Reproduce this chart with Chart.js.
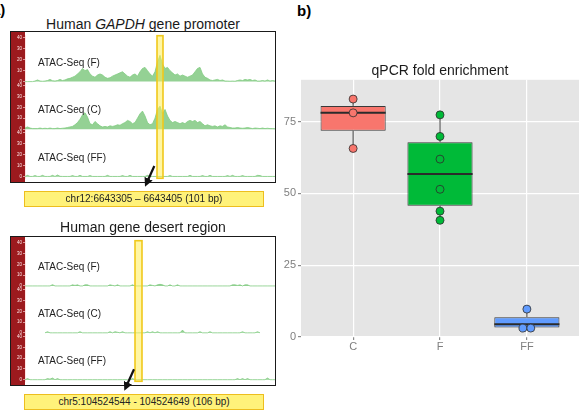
<!DOCTYPE html>
<html><head><meta charset="utf-8">
<script src="https://cdn.jsdelivr.net/npm/chart.js@4.4.1/dist/chart.umd.min.js"></script>
<style>
html,body{margin:0;padding:0;background:#fff;}
body{width:584px;height:411px;position:relative;overflow:hidden;font-family:'Liberation Sans',Arial,sans-serif;}
.abs{position:absolute;}
.title{position:absolute;left:0;width:286px;text-align:center;font-size:14px;color:#1a1a1a;line-height:16px;}
.frame{position:absolute;box-sizing:border-box;border:1.5px solid #1a1a1a;}
.coord{position:absolute;box-sizing:border-box;left:24px;width:240px;height:16px;background:#FFF27A;border:1.5px solid #EDBE1E;text-align:center;font-size:10px;line-height:13px;color:#222;white-space:nowrap;}
canvas{position:absolute;}
</style></head>
<body>
<div class="abs" style="left:-8px;top:1px;font-weight:bold;font-size:15px;">a)</div>
<div class="abs" style="left:297px;top:2px;font-weight:bold;font-size:15px;">b)</div>
<div class="title" style="top:16px;">Human <i>GAPDH</i> gene promoter</div>
<canvas id="b1" width="264" height="150" style="left:11px;top:32px;"></canvas>
<div class="frame" style="left:10px;top:31px;width:266px;height:152px;"></div>
<div class="coord" style="top:191px;">chr12:6643305 – 6643405 (101 bp)</div>
<div class="title" style="top:219px;">Human gene desert region</div>
<canvas id="b2" width="264" height="148" style="left:11px;top:237px;"></canvas>
<div class="frame" style="left:10px;top:236px;width:266px;height:150px;"></div>
<div class="coord" style="top:394px;">chr5:104524544 - 104524649 (106 bp)</div>
<svg class="abs" style="left:0;top:0" width="584" height="411">
<defs><marker id="ah" markerWidth="4" markerHeight="4" refX="2" refY="2" orient="auto" markerUnits="strokeWidth"><path d="M0,0 L4,2 L0,4 z" fill="#111"/></marker></defs>
<line x1="154.3" y1="166" x2="146.8" y2="182.7" stroke="#111" stroke-width="2.2" marker-end="url(#ah)"/>
<line x1="134" y1="369.3" x2="126.1" y2="386.7" stroke="#111" stroke-width="2.2" marker-end="url(#ah)"/>
</svg>
<canvas id="box" width="314" height="371" style="left:270px;top:40px;"></canvas>
<script>
// ---------- Data ----------
const trackNames = ['ATAC-Seq (F)', 'ATAC-Seq (C)', 'ATAC-Seq (FF)'];
const trackTicks = [0, 10, 20, 30, 40];
// GAPDH promoter coverage (101 bins across the browser window)
const gapdhF = [0,0,0,0,0.5,1.5,0.5,0.3,0.5,1, 2,0.8,0.5,1,2,1,1.5,2.5,3,4, 5,7,9,12,10,11,7,5,4,6, 7,6,4,3,3.5,5,6,7,8,9, 7,5,4,6,7,5,9,12,13,10, 7,5,9,18,24,16,12,13,10,8, 6,7,5,6,5,4,5,6,9,12, 13,7,4,3,1.5,1,1.5,2,1,1.5, 0.5,0.5,0.3,0.5,0.3,1,1.5,1,2,1.5, 2,1,1.5,0.5,0.5,1,0.5,1.5,0.5,1,0.5];
const gapdhC = [1,2,1,0.5,0.5,0.5,1,0.5,0.8,0.5, 1,0.5,0.5,1,0.5,0.8,1,1.5,2,2.5, 4,6,9,13,15,11,5,4,7,5, 3,2,2.5,2,3,2.5,3,4,3.5,5, 6,8,7,5,6,10,14,16.5,12,6, 4,5,10,18,21,14,18,12,8,6, 7,6,5,6,5,7,8,7,8,6, 7,5,3,4,3,2.5,3,2,3,2.5, 4,2,1.5,1,1,1.5,1,0.8,1,1.5, 1,0.5,1,0.8,0.5,1,0.5,0.8,0.5,0.5,0.3];
const gapdhFF = [0.2,1.2,0.2,0.2,1,0.2,0.2,1.2,0.2,0.2, 0.2,1.2,0.2,1.5,0.3,0.2,0.2,0.2,0.2,1, 0.2,0.2,1.2,0.2,0.2,0.2,1,0.2,0.2,0.2, 0.2,0.2,0.2,1.2,0.2,0.2,0.2,0.2,0.2,1, 0.2,0.2,1.2,0.2,0.2,0.2,0.2,0.2,0.2,1.2, 0.2,0.2,0.2,0.2,0.2,0.2,0.2,0.2,1,0.2, 0.2,0.2,0.2,0.2,0.2,0.2,1.2,0.2,0.2,0.2, 0.2,1,0.2,0.2,1.2,0.2,0.2,0.2,0.2,0.2, 0.2,1,0.2,1.2,0.2,0.2,0.2,1,0.2,0.2, 0.2,0.2,0.2,1.2,1,0.2,0.2,0.2,0.2,0.2,0.2];
const gapdhHighlight = [52.8, 55.2];
// Gene desert coverage
const desertF = [0,0,0,0,0,0,0,0,0,0, 0,1.2,0,0,0,0,0,0,0,1, 0.5,1,0,0,1,1,0,0,0,0, 0,0,0,0,1,0.5,0,1,0,0, 0,0,0,1,0,0,0,0,0,0, 1,0.5,0,1,1.5,1,0,0,1,0, 0,1,0,0,0,0,0,0,0,0, 0,0,0,0,0,0,0,0,0,0, 0,0,0,1,1,0.5,1,0,1,1, 0,0,0,0,0,0,0,0,0,0,0];
const desertC = [null,null,null,null,null,null,null,null,0,1, 0,0,0,0,0,0,0,0,0,0, 0,0,1,0,0,0,0,0,0,0, 0,0,0,0,1,0,1,0.5,0,1, 0,0,0,0,0,0,0,0,0,1, 0,1,0,1,0,0,0,0,0,0, 0,0,0,2.5,0,0,0,0,0,0, 1,0,0,0,1,0,0,0,0,0, 0,0,0,0,0,0,0,1,0,0, 0,0,0,1,0,null,null,null,null,null,null];
const desertFF = [0,1,0,0,0,0,0,0,0,1, 0.5,1.5,0,1,0,0,0,0,0,0, 0,0,0,0,0,0,0,0,0,0, 0,0,0,0,0,0,0,0,0,0, 0,0,0,1,0,0,0,0,0,0, 0,0,0,0,0,0,0,0,0,0, 0,0,0,0,0,0,0,0,0,0, 0,0,0,0,0,0,0,0,0,0, 0,0,0,0,0,1,0,1,0,1, 0,0,0,0,0,0,0,1.5,0,0,0];
const desertHighlight = [44, 46.8];

// qPCR boxplot
const categories = ['C', 'F', 'FF'];
const whiskerLow = [65.6, 40.6, 3.1];
const boxQ1 = [71.8, 45.7, 3.3];
const boxMedian = [78.0, 56.7, 4.4];
const boxQ3 = [80.4, 67.8, 6.9];
const whiskerHigh = [82.8, 77.3, 9.7];
const pointsC = [82.8, 78.0, 65.6];
const pointsF = [77.3, 69.8, 61.9, 51.4, 43.8, 40.6];
const pointsFF = [9.7, 3.1, 3.1];
const yTicks = [0, 25, 50, 75];

// ---------- Drawing ----------
const FONT = "'Liberation Sans', Arial, sans-serif";
Chart.defaults.font.family = FONT;

function makeBrowser(id, tracks, highlight) {
  const n = tracks[0].length;
  const scales = { x: { type: 'linear', min: 0, max: n - 1, display: false } };
  // stacked axes are laid out bottom-up, so declare the last track first
  for (let i = tracks.length - 1; i >= 0; i--) {
    scales['y' + i] = {
      type: 'linear', position: 'left', stack: 'tracks', stackWeight: 1,
      min: -1.5, max: 42,
      afterFit(s) { s.width = 14; },
      afterBuildTicks(s) { s.ticks = trackTicks.map(v => ({ value: v })); },
      ticks: { font: { size: 4.5 }, color: 'rgba(255,240,240,0.95)', padding: 1, autoSkip: false },
      grid: { drawOnChartArea: false, tickLength: 2, tickColor: 'rgba(255,225,225,0.9)', lineWidth: 0.7 },
      border: { color: 'rgba(255,215,215,0.9)', width: 0.8 }
    };
  }
  const datasets = tracks.map((t, i) => ({
    type: 'line',
    data: t.map((v, k) => ({ x: k, y: v })),
    yAxisID: 'y' + i,
    borderColor: '#80CB80', borderWidth: 0.8,
    backgroundColor: 'rgba(112,193,112,0.75)',
    fill: 'origin', pointRadius: 0, tension: 0, spanGaps: false
  }));
  const deco = {
    id: 'deco' + id,
    beforeDraw(c) {
      const ctx = c.ctx;
      ctx.save();
      ctx.fillStyle = '#9C1A1E';
      ctx.fillRect(0, 0, c.chartArea.left, c.height);
      ctx.restore();
    },
    afterDatasetsDraw(c) {
      const ctx = c.ctx, a = c.chartArea;
      ctx.save();
      ctx.font = '10px ' + FONT;
      ctx.fillStyle = '#222';
      ctx.textBaseline = 'middle';
      trackNames.forEach((name, i) => {
        const ys = c.scales['y' + i];
        ctx.fillText(name, a.left + 13, ys.getPixelForValue(17));
      });
      const xs = c.scales.x;
      const x1 = xs.getPixelForValue(highlight[0]), x2 = xs.getPixelForValue(highlight[1]);
      ctx.fillStyle = 'rgba(255,238,90,0.55)';
      ctx.fillRect(x1, a.top, x2 - x1, a.bottom - a.top);
      ctx.strokeStyle = '#F0C91C';
      ctx.lineWidth = 1.6;
      ctx.strokeRect(x1, a.top, x2 - x1, a.bottom - a.top);
      ctx.restore();
    }
  };
  new Chart(document.getElementById(id), {
    type: 'line',
    data: { datasets },
    options: {
      responsive: false, animation: false, devicePixelRatio: 1,
      layout: { padding: 0 },
      plugins: { legend: { display: false }, tooltip: { enabled: false }, title: { display: false } },
      scales
    },
    plugins: [deco]
  });
}

makeBrowser('b1', [gapdhF, gapdhC, gapdhFF], gapdhHighlight);
makeBrowser('b2', [desertF, desertC, desertFF], desertHighlight);

// Boxplot
const boxColors = ['#F8766D', '#00BA38', '#619CFF'];
const groupPoints = [pointsC, pointsF, pointsFF];
const halfBox = 0.375;
const dodge = 0.045;
const scatterData = [], scatterColors = [];
groupPoints.forEach((pts, g) => {
  pts.forEach((v, k) => {
    const dups = pts.filter(w => w === v).length;
    let off = 0;
    if (dups > 1) {
      const rank = pts.slice(0, k).filter(w => w === v).length;
      off = (rank - (dups - 1) / 2) * 2 * dodge;
    }
    scatterData.push({ x: g + 1 + off, y: v });
    scatterColors.push(boxColors[g]);
  });
});
const medianData = [], whiskerData = [];
categories.forEach((c, g) => {
  const x = g + 1;
  medianData.push({ x: x - halfBox, y: boxMedian[g] }, { x: x + halfBox, y: boxMedian[g] }, { x: x + 0.5, y: null });
  whiskerData.push({ x, y: boxQ3[g] }, { x, y: whiskerHigh[g] }, { x, y: null },
                   { x, y: whiskerLow[g] }, { x, y: boxQ1[g] }, { x, y: null });
});
const panelBg = {
  id: 'panelBg',
  beforeDraw(c) {
    const a = c.chartArea, ctx = c.ctx;
    ctx.save();
    ctx.fillStyle = '#E5E5E5';
    ctx.fillRect(a.left, a.top, a.right - a.left, a.bottom - a.top);
    ctx.restore();
  }
};
new Chart(document.getElementById('box'), {
  type: 'bar',
  data: {
    datasets: [
      { type: 'scatter', data: scatterData, order: 0, pointRadius: 4, pointHoverRadius: 4,
        pointBackgroundColor: scatterColors, pointBorderColor: 'rgba(45,45,45,0.8)', pointBorderWidth: 1 },
      { type: 'line', data: medianData, order: 1, borderColor: '#2b2b2b', borderWidth: 2,
        pointRadius: 0, spanGaps: false, fill: false },
      { type: 'bar', data: categories.map((c, g) => ({ x: g + 1, y: [boxQ1[g], boxQ3[g]] })), order: 2,
        backgroundColor: boxColors, borderColor: '#3a3a3a', borderWidth: 1, borderSkipped: false,
        barPercentage: 0.75, categoryPercentage: 1.0 },
      { type: 'line', data: whiskerData, order: 3, borderColor: '#3a3a3a', borderWidth: 1,
        pointRadius: 0, spanGaps: false, fill: false }
    ]
  },
  options: {
    responsive: false, animation: false, devicePixelRatio: 1,
    layout: { padding: { top: 0, right: 4, left: 0, bottom: 0 } },
    plugins: {
      legend: { display: false }, tooltip: { enabled: false },
      title: { display: true, text: 'qPCR fold enrichment', fullSize: false, color: '#1a1a1a',
        font: { size: 14, weight: 'normal', family: FONT }, padding: { top: 23, bottom: 0 } }
    },
    scales: {
      x: { type: 'linear', min: 0.4, max: 3.6, offset: false,
        afterFit(s) { s.height = 74; },
        afterBuildTicks(s) { s.ticks = categories.map((c, g) => ({ value: g + 1 })); },
        ticks: { callback: v => categories[v - 1] ?? '', color: '#7F7F7F', font: { size: 11 }, padding: 0, autoSkip: false, maxRotation: 0 },
        grid: { offset: false, color: '#FFFFFF', lineWidth: 1.2, tickLength: 3, tickColor: '#8A8A8A' },
        border: { display: false } },
      y: { type: 'linear', min: 0, max: 89.5,
        afterFit(s) { s.width = 31; },
        afterBuildTicks(s) { s.ticks = yTicks.map(v => ({ value: v })); },
        ticks: { color: '#7F7F7F', font: { size: 11 }, padding: 2 },
        grid: { color: '#FFFFFF', lineWidth: 1.2, tickLength: 3, tickColor: '#8A8A8A' },
        border: { display: false } }
    }
  },
  plugins: [panelBg]
});
</script>
</body></html>
